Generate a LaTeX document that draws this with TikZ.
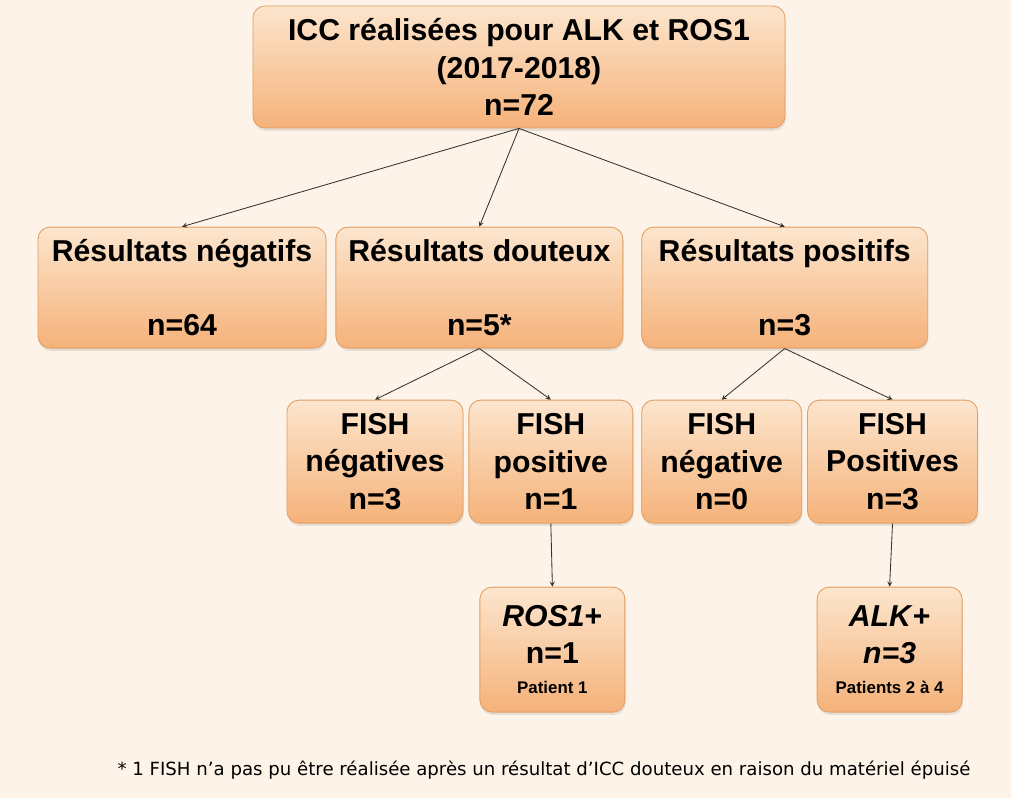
\documentclass[tikz,border=0pt]{standalone}
\usepackage{fontspec}
\setmainfont{Liberation Sans}
\newfontfamily\notefont{DejaVu Sans}
\usetikzlibrary{arrows, positioning, shadows}

\definecolor{bgcream}{HTML}{FDF3E8}
\definecolor{boxtop}{HTML}{FCE5CD}
\definecolor{boxbottom}{HTML}{F5B27A}
\definecolor{boxline}{HTML}{E29E63}

\begin{document}
\begin{tikzpicture}[node distance=0.2cm,
    result/.style={rectangle, rounded corners=0.3cm, draw=boxline, line width=0.6pt,
        top color=boxtop, bottom color=boxbottom, align=center, inner sep=2pt,
        font=\fontsize{21.5}{26.5}\selectfont\bfseries,
        drop shadow={opacity=0.18, shadow xshift=0.02cm, shadow yshift=-0.07cm}},
    link/.style={->, >=stealth, line width=0.6pt, draw=black!80}]
    % Background
    \fill[bgcream] (0,0) rectangle (25.275,-19.95);

    % Nodes
    \node (ICC) [result, minimum width=13.3cm, minimum height=3.05cm] at (12.975,-1.675)
        {ICC réalisées pour ALK et ROS1\\(2017-2018)\\n=72};

    \node (Negatifs) [result, minimum width=7.2cm, minimum height=3.025cm] at (4.55,-7.19)
        {Résultats négatifs\\~\\n=64};
    \node (Douteux) [result, minimum width=7.175cm, minimum height=3.025cm, right=0.225cm of Negatifs]
        {Résultats douteux\\~\\n=5*};
    \node (Positifs) [result, minimum width=7.15cm, minimum height=3.025cm, right=0.45cm of Douteux]
        {Résultats positifs\\~\\n=3};

    \node (FishNeg) [result, minimum width=4.4cm, minimum height=3.075cm] at (9.375,-11.54)
        {FISH\\négatives\\n=3};
    \node (FishPos) [result, minimum width=4.1cm, minimum height=3.075cm, right=0.125cm of FishNeg]
        {FISH\\positive\\n=1};
    \node (FishNegB) [result, minimum width=4.0cm, minimum height=3.075cm, right=0.2cm of FishPos]
        {FISH\\négative\\n=0};
    \node (FishPosB) [result, minimum width=4.25cm, minimum height=3.075cm, right=0.125cm of FishNegB]
        {FISH\\Positives\\n=3};

    \node (ROS) [result, minimum width=3.625cm, minimum height=3.125cm] at (13.81,-16.24)
        {\textit{ROS1}+\\n=1\\[-5pt]{\fontsize{12}{14}\selectfont Patient 1}};
    \node (ALK) [result, minimum width=3.625cm, minimum height=3.125cm] at (22.24,-16.24)
        {\textit{ALK}+\\\textit{n=3}\\[-5pt]{\fontsize{12}{14}\selectfont Patients 2 à 4}};

    \node (Note) [font=\notefont\fontsize{12.9}{15}\selectfont, inner sep=0pt] at (13.6,-19.25)
        {* 1 FISH n’a pas pu être réalisée après un résultat d’ICC douteux en raison du matériel épuisé};

    % Edges
    \draw[link] (ICC.south) -- (Negatifs.north);
    \draw[link] (ICC.south) -- (Douteux.north);
    \draw[link] (ICC.south) -- (Positifs.north);
    \draw[link] (Douteux.south) -- (FishNeg.north);
    \draw[link] (Douteux.south) -- (FishPos.north);
    \draw[link] (Positifs.south) -- (FishNegB.north);
    \draw[link] (Positifs.south) -- (FishPosB.north);
    \draw[link] (FishPos.south) -- (ROS.north);
    \draw[link] (FishPosB.south) -- (ALK.north);
\end{tikzpicture}
\end{document}
